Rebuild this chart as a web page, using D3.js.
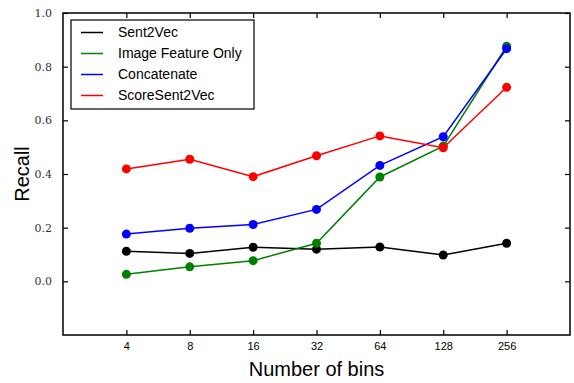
<!DOCTYPE html>
<html>
<head>
<meta charset="utf-8">
<script src="https://cdn.jsdelivr.net/npm/d3@7"></script>
<style>
  body { margin: 0; background: #fff; }
  svg { display: block; }
</style>
</head>
<body>
<div id="wrapper"></div>
<script>
// values
const bins = [4, 8, 16, 32, 64, 128, 256]
const sent2vec = [0.112, 0.104, 0.127, 0.120, 0.128, 0.098, 0.142]
const imageOnly = [0.026, 0.054, 0.077, 0.142, 0.389, 0.504, 0.876]
const concatenate = [0.176, 0.198, 0.212, 0.268, 0.432, 0.539, 0.867]
const scoreSent2vec = [0.419, 0.455, 0.390, 0.468, 0.542, 0.498, 0.723]
const seriesNames = ["Sent2Vec", "Image Feature Only", "Concatenate", "ScoreSent2Vec"]
const seriesColors = ["#000000", "#008000", "#0000ff", "#ff0000"]
const yTicks = [0.0, 0.2, 0.4, 0.6, 0.8, 1.0]

const series = [sent2vec, imageOnly, concatenate, scoreSent2vec]

let dimensions = {
    width: 574,
    height: 383,
    margin: { top: 13, right: 4, bottom: 48, left: 63 }
}
dimensions.boundedWidth = dimensions.width - dimensions.margin.left - dimensions.margin.right
dimensions.boundedHeight = dimensions.height - dimensions.margin.top - dimensions.margin.bottom

const x = d3.scaleLog().base(2)
    .domain([2, 512])
    .range([0, dimensions.boundedWidth])

const y = d3.scaleLinear()
    .domain([-0.2, 1.0])
    .range([dimensions.boundedHeight, 0])

const wrapper = d3.select("#wrapper")
    .append("svg")
    .attr("width", dimensions.width)
    .attr("height", dimensions.height)

const bounds = wrapper.append("g")
    .attr("transform", `translate(${dimensions.margin.left},${dimensions.margin.top})`)

// inward ticks on all four sides, like matplotlib classic
const tickLen = 5
const bottomAxis = d3.axisBottom(x).tickValues(bins).tickSize(-tickLen).tickPadding(7).tickFormat(d3.format("d"))
const topAxis = d3.axisTop(x).tickValues(bins).tickSize(-tickLen).tickFormat("")
const leftAxis = d3.axisLeft(y).tickValues(yTicks).tickSize(-tickLen).tickPadding(11).tickFormat(d3.format(".1f"))
const rightAxis = d3.axisRight(y).tickValues(yTicks).tickSize(-tickLen).tickFormat("")

const gx = bounds.append("g")
    .attr("transform", `translate(0,${dimensions.boundedHeight})`)
    .call(bottomAxis)
gx.selectAll("text")
    .attr("font-family", "Liberation Sans, Arial, sans-serif")
    .attr("font-size", 11)
    .attr("fill", "#000")

bounds.append("g").call(topAxis)

const gy = bounds.append("g").call(leftAxis)
gy.selectAll("text")
    .attr("font-family", "DejaVu Serif, serif")
    .attr("font-size", 11)
    .attr("fill", "#333")

bounds.append("g")
    .attr("transform", `translate(${dimensions.boundedWidth},0)`)
    .call(rightAxis)

bounds.selectAll(".domain").remove()
bounds.selectAll(".tick line").attr("stroke", "#000").attr("stroke-width", 1.2)

// lines and markers
const lineGen = d3.line()
    .x((d, i) => x(bins[i]))
    .y(d => y(d))

series.forEach((vals, si) => {
    bounds.append("path")
        .datum(vals)
        .attr("fill", "none")
        .attr("stroke", seriesColors[si])
        .attr("stroke-width", 1.5)
        .attr("d", lineGen)
    bounds.append("g")
        .selectAll("circle")
        .data(vals)
        .join("circle")
        .attr("cx", (d, i) => x(bins[i]))
        .attr("cy", d => y(d))
        .attr("r", 4.5)
        .attr("fill", seriesColors[si])
})

// frame
bounds.append("rect")
    .attr("width", dimensions.boundedWidth)
    .attr("height", dimensions.boundedHeight)
    .attr("fill", "none")
    .attr("stroke", "#000")
    .attr("stroke-width", 1.5)

// legend
const legend = bounds.append("g")
    .attr("transform", "translate(8,7)")
legend.append("rect")
    .attr("width", 183)
    .attr("height", 89)
    .attr("fill", "#fff")
    .attr("stroke", "#000")
    .attr("stroke-width", 1.2)
seriesNames.forEach((name, i) => {
    const row = legend.append("g").attr("transform", `translate(0,${12.5 + i * 21})`)
    row.append("line")
        .attr("x1", 10).attr("x2", 32)
        .attr("stroke", seriesColors[i])
        .attr("stroke-width", 1.5)
    row.append("text")
        .attr("x", 47)
        .attr("dy", "0.35em")
        .attr("font-family", "Liberation Sans, Arial, sans-serif")
        .attr("font-size", 14)
        .text(name)
})

// axis titles
wrapper.append("text")
    .attr("x", dimensions.margin.left + dimensions.boundedWidth / 2)
    .attr("y", 376)
    .attr("text-anchor", "middle")
    .attr("font-family", "Liberation Sans, Arial, sans-serif")
    .attr("font-size", 20)
    .text("Number of bins")

wrapper.append("text")
    .attr("transform", `translate(29,${dimensions.margin.top + dimensions.boundedHeight / 2}) rotate(-90)`)
    .attr("text-anchor", "middle")
    .attr("font-family", "Liberation Sans, Arial, sans-serif")
    .attr("font-size", 20)
    .text("Recall")
</script>
</body>
</html>
